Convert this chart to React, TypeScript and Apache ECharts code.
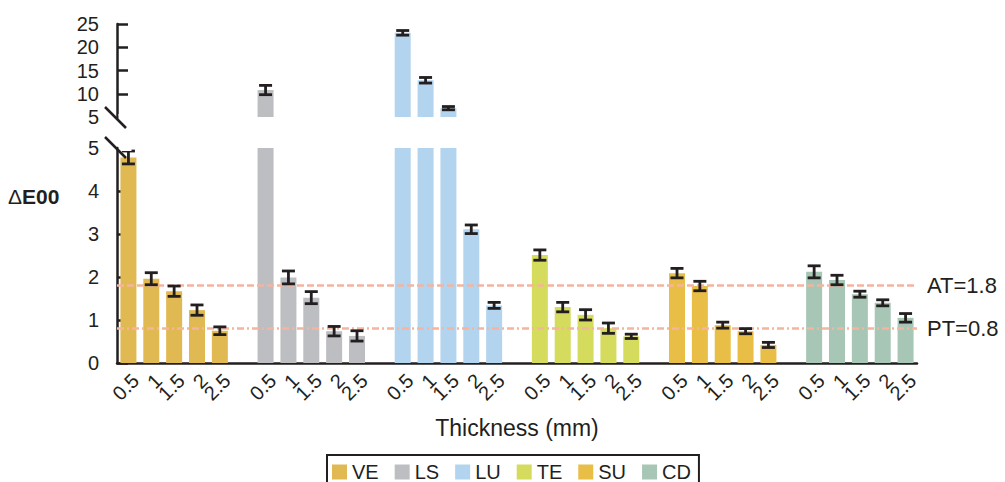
import React, { useEffect, useRef } from 'react';
import * as echarts from 'echarts';

const materials = ['VE', 'LS', 'LU', 'TE', 'SU', 'CD'];
const thickness = ['0.5', '1', '1.5', '2', '2.5'];
const colors = ['#e1b952', '#bcbec1', '#b3d4ef', '#d4db5d', '#e9be47', '#a7c6b5'];

const meanVE = [4.78, 1.96, 1.67, 1.23, 0.75];
const errVE = [0.15, 0.14, 0.12, 0.12, 0.09];
const meanLS = [10.8, 1.99, 1.52, 0.74, 0.63];
const errLS = [1.0, 0.15, 0.14, 0.11, 0.12];
const meanLU = [23.1, 12.9, 6.9, 3.11, 1.34];
const errLU = [0.5, 0.6, 0.35, 0.1, 0.07];
const meanTE = [2.51, 1.3, 1.12, 0.81, 0.62];
const errTE = [0.12, 0.11, 0.12, 0.12, 0.05];
const meanSU = [2.09, 1.79, 0.88, 0.74, 0.42];
const errSU = [0.11, 0.11, 0.07, 0.06, 0.06];
const meanCD = [2.12, 1.93, 1.6, 1.4, 1.05];
const errCD = [0.14, 0.11, 0.07, 0.07, 0.1];

const means = [meanVE, meanLS, meanLU, meanTE, meanSU, meanCD];
const errs = [errVE, errLS, errLU, errTE, errSU, errCD];

const lowTicks = [0, 1, 2, 3, 4, 5];
const highTicks = [5, 10, 15, 20, 25];
const thresholds = [
  { label: 'AT=1.8', value: 1.8, dash: [7, 3] },
  { label: 'PT=0.8', value: 0.8, dash: [7, 3, 2, 3] },
];

const FONT = 'Liberation Sans, Arial, Helvetica, sans-serif';
const INK = '#231f20';

const categories: string[] = [];
materials.forEach((m, g) => {
  thickness.forEach((t) => categories.push(m + '|' + t));
  if (g < materials.length - 1) categories.push('gap' + g);
});
const slot = (g: number, i: number) => g * 6 + i;
const breakVal = lowTicks[lowTicks.length - 1];

export default function App() {
  const ref = useRef<HTMLDivElement>(null);
  useEffect(() => {
    if (!ref.current) return;
    const chart = echarts.init(ref.current, undefined, { renderer: 'svg' });

    const series: any[] = [];
    const errLow: number[][] = [];
    const errHigh: number[][] = [];
    materials.forEach((m, g) => {
      const low: any[] = categories.map(() => '-');
      const high: any[] = categories.map(() => '-');
      means[g].forEach((v, i) => {
        low[slot(g, i)] = Math.min(v, breakVal);
        if (v > breakVal) high[slot(g, i)] = v;
        const item = [slot(g, i), v - errs[g][i], v + errs[g][i]];
        (v > breakVal ? errHigh : errLow).push(item);
      });
      const lowSeries: any = {
        name: m,
        type: 'bar',
        xAxisIndex: 1,
        yAxisIndex: 1,
        data: low,
        barWidth: 16,
        barGap: '-100%',
        itemStyle: { color: colors[g] },
      };
      if (g === 0) {
        lowSeries.markLine = {
          silent: true,
          symbol: 'none',
          z: 5,
          data: thresholds.map((t) => ({
            yAxis: t.value,
            lineStyle: { color: '#f5b49e', width: 2.5, type: t.dash },
            label: {
              show: true,
              position: 'end',
              distance: 10,
              formatter: t.label,
              fontSize: 22,
              fontFamily: FONT,
              color: INK,
            },
          })),
        };
      }
      series.push(lowSeries);
      series.push({
        name: m,
        type: 'bar',
        xAxisIndex: 0,
        yAxisIndex: 0,
        data: high,
        barWidth: 16,
        barGap: '-100%',
        itemStyle: { color: colors[g] },
      });
    });

    const renderErr = (params: any, api: any) => {
      const x = api.value(0);
      const lo = api.coord([x, api.value(1)]);
      const hi = api.coord([x, api.value(2)]);
      const hw = 6.5;
      const style = { stroke: INK, lineWidth: 2.8, fill: null };
      return {
        type: 'group',
        children: [
          { type: 'line', shape: { x1: lo[0], y1: hi[1], x2: lo[0], y2: lo[1] }, style },
          { type: 'line', shape: { x1: lo[0] - hw, y1: hi[1], x2: lo[0] + hw, y2: hi[1] }, style },
          { type: 'line', shape: { x1: lo[0] - hw, y1: lo[1], x2: lo[0] + hw, y2: lo[1] }, style },
        ],
      };
    };
    series.push({
      type: 'custom',
      xAxisIndex: 1,
      yAxisIndex: 1,
      data: errLow,
      encode: { x: 0, y: [1, 2] },
      renderItem: renderErr,
      z: 10,
      silent: true,
    });
    series.push({
      type: 'custom',
      xAxisIndex: 0,
      yAxisIndex: 0,
      data: errHigh,
      encode: { x: 0, y: [1, 2] },
      renderItem: renderErr,
      z: 10,
      silent: true,
    });

    const yCommon = {
      axisLine: { show: true, lineStyle: { color: INK, width: 2.5 } },
      axisTick: { show: true, inside: true, length: 11, lineStyle: { color: INK, width: 2.5 } },
      splitLine: { show: false },
      axisLabel: { fontSize: 20, fontFamily: FONT, color: INK, margin: 18 },
    };

    chart.setOption({
      animation: false,
      backgroundColor: '#ffffff',
      grid: [
        { left: 117, right: 88, top: 24, height: 93, outerBoundsMode: 'none' },
        { left: 117, right: 88, top: 148, height: 215, outerBoundsMode: 'none' },
      ],
      xAxis: [
        { type: 'category', gridIndex: 0, data: categories, show: false },
        {
          type: 'category',
          gridIndex: 1,
          data: categories,
          axisLine: { lineStyle: { color: INK, width: 2.5 } },
          axisTick: {
            inside: true,
            length: 10,
            alignWithLabel: true,
            interval: (i: number) => !categories[i].startsWith('gap'),
            lineStyle: { color: INK, width: 2.5 },
          },
          axisLabel: {
            interval: 0,
            rotate: 45,
            fontSize: 20,
            fontFamily: FONT,
            color: INK,
            margin: 7,
            align: 'right',
            verticalAlign: 'top',
            formatter: (v: string) => (v.indexOf('|') >= 0 ? v.split('|')[1] : ''),
          },
        },
      ],
      yAxis: [
        {
          type: 'value',
          gridIndex: 0,
          min: highTicks[0],
          max: highTicks[highTicks.length - 1],
          interval: 5,
          ...yCommon,
        },
        {
          type: 'value',
          gridIndex: 1,
          min: lowTicks[0],
          max: lowTicks[lowTicks.length - 1],
          interval: 1,
          ...yCommon,
        },
      ],
      legend: {
        data: materials,
        left: 327,
        top: 455,
        icon: 'rect',
        itemWidth: 15,
        itemHeight: 15,
        itemGap: 16,
        padding: [7, 8, 7, 5],
        borderColor: INK,
        borderWidth: 2,
        borderRadius: 0,
        selectedMode: false,
        textStyle: { fontSize: 20, fontFamily: FONT, color: INK },
      },
      graphic: [
        { type: 'rect', z: 50, shape: { x: 118.5, y: 114, width: 13, height: 6 }, style: { fill: '#ffffff' } },
        { type: 'rect', z: 50, shape: { x: 118.5, y: 145, width: 13, height: 6 }, style: { fill: '#ffffff' } },
        { type: 'line', z: 60, shape: { x1: 105, y1: 107, x2: 126, y2: 128 }, style: { stroke: INK, lineWidth: 2.5 } },
        { type: 'line', z: 60, shape: { x1: 105, y1: 137, x2: 126, y2: 158 }, style: { stroke: INK, lineWidth: 2.5 } },
        {
          type: 'text',
          z: 60,
          x: 517,
          y: 428,
          style: {
            text: 'Thickness (mm)',
            fontSize: 23,
            fontFamily: FONT,
            fill: INK,
            align: 'center',
            verticalAlign: 'middle',
          },
        },
        {
          type: 'text',
          z: 60,
          x: 8,
          y: 196,
          style: {
            text: '{d|Δ}{e|E00}',
            verticalAlign: 'middle',
            align: 'left',
            rich: {
              d: { fontSize: 21, fontFamily: FONT, fill: INK, fontWeight: 'normal' },
              e: { fontSize: 21, fontFamily: FONT, fill: INK, fontWeight: 'bold' },
            },
          },
        },
      ],
      series,
    });
    return () => chart.dispose();
  }, []);
  return <div ref={ref} style={{ position: 'fixed', left: 0, top: 0, width: 1005, height: 482 }} />;
}
